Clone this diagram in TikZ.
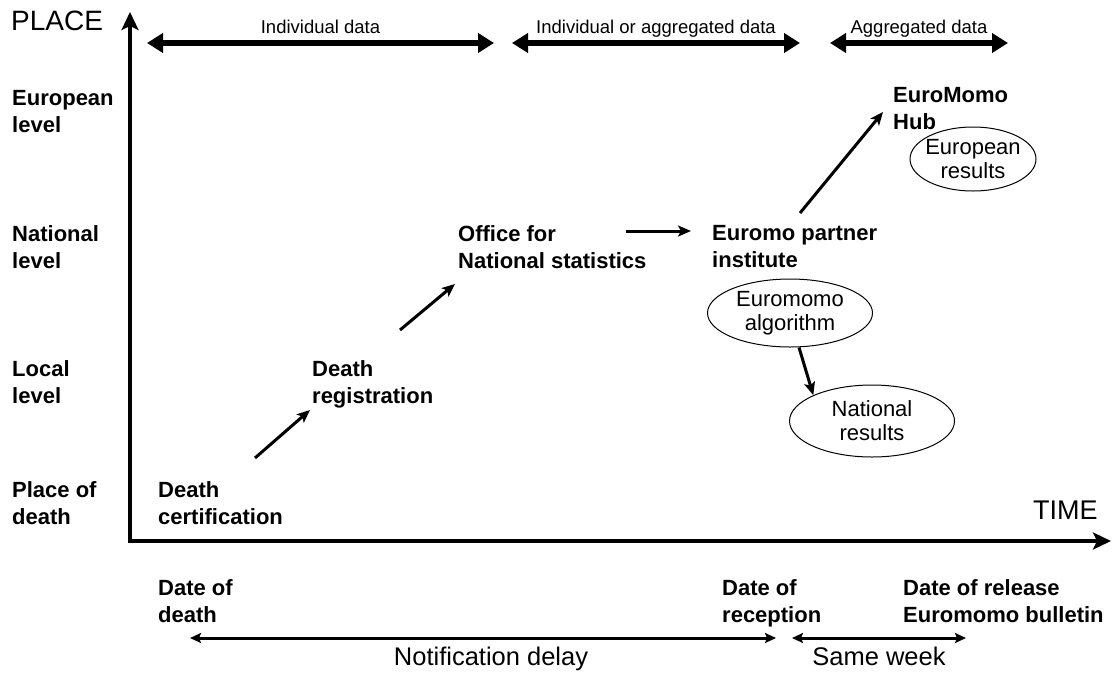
\documentclass[tikz,border=0pt]{standalone}
\usepackage{fontspec}
\setmainfont{Liberation Sans}
\usetikzlibrary{arrows.meta,shapes.geometric}
\begin{document}
\begin{tikzpicture}[x=1pt,y=-1pt,
  lbl/.style={font=\fontsize{22}{27}\selectfont\bfseries, align=left, anchor=north west, inner sep=0pt},
  res/.style={draw, ellipse, line width=1pt, font=\fontsize{22}{24}\selectfont, align=center, inner sep=0pt},
  axisline/.style={line width=4.5pt, line join=miter, {Stealth[length=18pt,width=17pt,inset=4pt]}-{Stealth[length=18pt,width=17pt,inset=4pt]}},
  bigrange/.style={line width=5.5pt, {Triangle[length=16pt,width=19pt]}-{Triangle[length=16pt,width=19pt]}},
  smallrange/.style={line width=3pt, {Stealth[length=11pt,width=10pt,inset=2pt]}-{Stealth[length=11pt,width=10pt,inset=2pt]}},
  link/.style={line width=3pt, -{Stealth[length=13pt,width=11pt,inset=3pt]}},
  toplbl/.style={midway, anchor=base, yshift=10pt, inner sep=0pt, font=\fontsize{18.5}{20}\selectfont},
  botlbl/.style={midway, anchor=base, yshift=-27pt, inner sep=0pt, font=\fontsize{25.5}{27}\selectfont}
]
\useasboundingbox (0,0) rectangle (1115,675);

% axes
\coordinate (ytip) at (130,12);
\coordinate (org) at (130,541);
\coordinate (xtip) at (1111,541);
\draw[axisline] (ytip) -- (org) -- (xtip);
\node[font=\fontsize{28}{30}\selectfont, anchor=north west, inner sep=0pt] (place) at (11,11) {PLACE};
\node[font=\fontsize{27}{29}\selectfont, anchor=north west, inner sep=0pt] (time) at (1033,501) {TIME};

% top ranges
\coordinate (r1a) at (147,43);
\coordinate (r1b) at (494,43);
\coordinate (r2a) at (512,43);
\coordinate (r2b) at (800,43);
\coordinate (r3a) at (830,43);
\coordinate (r3b) at (1008,43);
\draw[bigrange] (r1a) -- node[toplbl] {Individual data} (r1b);
\draw[bigrange] (r2a) -- node[toplbl] {Individual or aggregated data} (r2b);
\draw[bigrange] (r3a) -- node[toplbl] {Aggregated data} (r3b);

% level labels
\node[lbl] (eu) at (12,90) {European\\level};
\node[lbl] (na) at (12,225) {National\\level};
\node[lbl] (lo) at (12,360) {Local\\level};
\node[lbl] (pd) at (12,481) {Place of\\death};

% process nodes
\node[lbl] (dc) at (158,481) {Death\\certification};
\node[lbl] (dr) at (312,360) {Death\\registration};
\node[lbl] (ons) at (458,225) {Office for\\National statistics};
\node[lbl] (ep) at (712,225) {Euromo partner\\institute};
\node[lbl] (hub) at (893,87) {EuroMomo\\Hub};

\node[res, inner xsep=-7pt, minimum width=126pt, minimum height=64pt] (eur) at (973,159) {European\\results};
\node[res, minimum width=165pt, minimum height=68pt] (alg) at (790,313) {Euromomo\\algorithm};
\node[res, minimum width=165pt, minimum height=72pt] (nr) at (872,421) {National\\results};

% connectors
\draw[link] ([shift={(97pt,23pt)}]dc.north west) -- ([shift={(-2pt,-50pt)}]dr.north west);
\draw[link] ([shift={(88pt,30pt)}]dr.north west) -- ([shift={(-3pt,-59pt)}]ons.north west);
\draw[link] ([shift={(168pt,-6pt)}]ons.north west) -- ([shift={(-21pt,-6pt)}]ep.north west);
\draw[link] ([shift={(88pt,12pt)}]ep.north west) -- ([shift={(-10pt,-25pt)}]hub.north west);
\draw[link] ([xshift=9pt]alg.south) -- (nr.north west);

% dates
\node[lbl] (dd) at (158,579) {Date of\\death};
\node[lbl] (drc) at (722,579) {Date of\\reception};
\node[lbl] (dre) at (903,579) {Date of release\\Euromomo bulletin};

% bottom ranges
\coordinate (n1a) at (190,638);
\coordinate (n1b) at (776,638);
\coordinate (s1a) at (792,638);
\coordinate (s1b) at (966,638);
\draw[smallrange] (n1a) -- node[botlbl, xshift=8pt] {Notification delay} (n1b);
\draw[smallrange] (s1a) -- node[botlbl] {Same week} (s1b);
\end{tikzpicture}
\end{document}
